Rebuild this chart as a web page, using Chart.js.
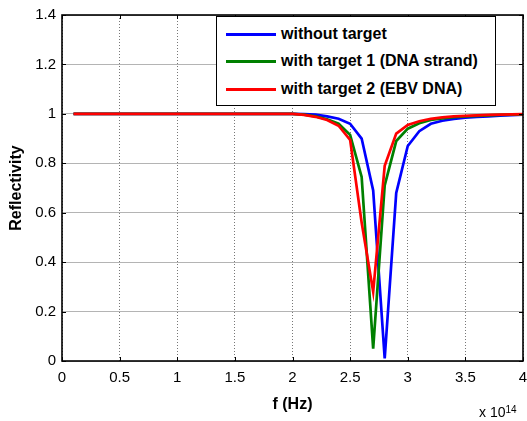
<!DOCTYPE html>
<html>
<head>
<meta charset="utf-8">
<script src="https://cdn.jsdelivr.net/npm/chart.js@4.4.0/dist/chart.umd.min.js"></script>
<style>
    html, body { margin: 0; padding: 0; background: #fff; }
    #wrap { position: relative; width: 527px; height: 421px; }
    #legend {
        position: absolute; left: 216px; top: 16px; width: 280px; height: 90px;
        border: 1px solid #000; background: #fff; box-sizing: border-box;
        font: bold 16px "Liberation Sans", Arial, sans-serif; color: #000;
    }
    .leg-row { position: absolute; left: 0; height: 20px; line-height: 20px; }
    .leg-line { position: absolute; left: 9px; top: 9px; width: 50px; height: 3px; }
    .leg-txt { position: absolute; left: 64px; top: 0; white-space: nowrap; }
    #expo {
        position: absolute; left: 479px; top: 404px;
        font: 14px "Liberation Sans", Arial, sans-serif; color: #000; white-space: nowrap;
    }
    #expo sup { font-size: 10px; position: relative; top: -4px; vertical-align: baseline; }
</style>
</head>
<body>
<div id="wrap">
    <canvas id="chartRefl" width="527" height="421"></canvas>
    <div id="legend"></div>
    <div id="expo">x 10<sup>14</sup></div>
</div>
<script>
'use strict';

// ─────────────────────────────────────────────────────────────────────────────
// DONNÉES (f en unités de 1e14 Hz)
// ─────────────────────────────────────────────────────────────────────────────

var freq = [0.1, 0.2, 0.3, 0.4, 0.5, 0.6, 0.7, 0.8, 0.9, 1.0,
            1.1, 1.2, 1.3, 1.4, 1.5, 1.6, 1.7, 1.8, 1.9, 2.0,
            2.1, 2.2, 2.3, 2.4, 2.5, 2.6, 2.7, 2.8, 2.9, 3.0,
            3.1, 3.2, 3.3, 3.4, 3.5, 3.6, 3.7, 3.8, 3.9, 4.0];

var sansCible = [1, 1, 1, 1, 1, 1, 1, 1, 1, 1,
                 1, 1, 1, 1, 1, 1, 1, 1, 1, 1,
                 0.999, 0.997, 0.99, 0.98, 0.96, 0.90, 0.69, 0.01, 0.68, 0.87,
                 0.93, 0.96, 0.972, 0.98, 0.985, 0.988, 0.99, 0.993, 0.995, 0.997];

var cible1 = [1, 1, 1, 1, 1, 1, 1, 1, 1, 1,
              1, 1, 1, 1, 1, 1, 1, 1, 1, 1,
              0.997, 0.99, 0.978, 0.96, 0.915, 0.745, 0.05, 0.71, 0.89, 0.94,
              0.962, 0.975, 0.982, 0.987, 0.99, 0.992, 0.994, 0.996, 0.997, 0.998];

var cible2 = [1, 1, 1, 1, 1, 1, 1, 1, 1, 1,
              1, 1, 1, 1, 1, 1, 1, 1, 1, 1,
              0.996, 0.988, 0.975, 0.952, 0.895, 0.56, 0.28, 0.79, 0.92, 0.955,
              0.97, 0.98, 0.986, 0.99, 0.992, 0.994, 0.996, 0.997, 0.998, 0.999];

var seriesLabels = ['without target', 'with target 1 (DNA strand)', 'with target 2 (EBV DNA)'];
var seriesColors = ['#0000ff', '#008000', '#ff0000'];

var xTicks = [0, 0.5, 1, 1.5, 2, 2.5, 3, 3.5, 4];
var xTickLabels = ['0', '0.5', '1', '1.5', '2', '2.5', '3', '3.5', '4'];
var yTicks = [0, 0.2, 0.4, 0.6, 0.8, 1, 1.2, 1.4];
var yTickLabels = ['0', '0.2', '0.4', '0.6', '0.8', '1', '1.2', '1.4'];

var FONT = '"Liberation Sans", Arial, sans-serif';

function toPoints(values) {
    return freq.map(function(f, i) { return { x: f, y: values[i] }; });
}

// cadre noir + petites graduations intérieures (style MATLAB)
var boxPlugin = {
    id: 'boxPlugin',
    afterDraw: function(chart) {
        var a = chart.chartArea;
        var ctx = chart.ctx;
        var sx = chart.scales.x, sy = chart.scales.y;
        ctx.save();
        ctx.strokeStyle = '#000';
        ctx.lineWidth = 1;
        ctx.beginPath();
        xTicks.forEach(function(v) {
            var px = Math.round(sx.getPixelForValue(v)) + 0.5;
            ctx.moveTo(px, a.bottom); ctx.lineTo(px, a.bottom - 4);
            ctx.moveTo(px, a.top); ctx.lineTo(px, a.top + 4);
        });
        yTicks.forEach(function(v) {
            var py = Math.round(sy.getPixelForValue(v)) + 0.5;
            ctx.moveTo(a.left, py); ctx.lineTo(a.left + 4, py);
            ctx.moveTo(a.right, py); ctx.lineTo(a.right - 4, py);
        });
        ctx.stroke();
        ctx.lineWidth = 1.6;
        ctx.strokeRect(a.left, a.top, a.right - a.left, a.bottom - a.top);
        ctx.restore();
    }
};

function buildLegend() {
    var legend = document.getElementById('legend');
    var html = '';
    var rowsTop = [7, 34, 62];
    for (var i = 0; i < seriesLabels.length; i++) {
        html += '<div class="leg-row" style="top:' + rowsTop[i] + 'px;width:100%;">'
            + '<span class="leg-line" style="background:' + seriesColors[i] + '"></span>'
            + '<span class="leg-txt">' + seriesLabels[i] + '</span>'
            + '</div>';
    }
    legend.innerHTML = html;
}

var ctx = document.getElementById('chartRefl');
var datasets = [sansCible, cible1, cible2].map(function(vals, i) {
    return {
        label: seriesLabels[i],
        data: toPoints(vals),
        borderColor: seriesColors[i],
        backgroundColor: seriesColors[i],
        borderWidth: 2.7,
        pointRadius: 0,
        tension: 0,
        fill: false,
        order: 3 - i
    };
});

var chartRefl = new Chart(ctx, {
    type: 'line',
    data: { datasets: datasets },
    options: {
        responsive: false,
        animation: false,
        layout: { padding: { top: 15, right: 4, left: 0, bottom: 0 } },
        plugins: {
            legend: { display: false },
            tooltip: { enabled: false }
        },
        scales: {
            x: {
                type: 'linear',
                min: 0,
                max: 4,
                afterBuildTicks: function(s) { s.ticks = xTicks.map(function(v) { return { value: v }; }); },
                afterFit: function(s) { s.height = 60; s.paddingRight = 0; s.paddingLeft = 0; },
                ticks: {
                    color: '#000',
                    padding: 8,
                    maxRotation: 0,
                    font: { family: FONT, size: 15 },
                    callback: function(v, i) { return xTickLabels[i]; }
                },
                grid: { color: '#777', lineWidth: 1, drawTicks: false },
                border: { display: false, dash: [1, 2] },
                title: {
                    display: true,
                    text: 'f (Hz)',
                    color: '#000',
                    padding: { top: 0, bottom: 7 },
                    font: { family: FONT, size: 16, weight: 'bold' }
                }
            },
            y: {
                min: 0,
                max: 1.4,
                afterBuildTicks: function(s) { s.ticks = yTicks.map(function(v) { return { value: v }; }); },
                afterFit: function(s) { s.width = 62; s.paddingTop = 0; s.paddingBottom = 0; },
                ticks: {
                    color: '#000',
                    padding: 6,
                    font: { family: FONT, size: 15 },
                    callback: function(v, i) { return yTickLabels[i]; }
                },
                grid: { color: '#b4b4b4', lineWidth: 1, drawTicks: false },
                border: { display: false },
                title: {
                    display: true,
                    text: 'Reflectivity',
                    color: '#000',
                    padding: { top: 7, bottom: 0 },
                    font: { family: FONT, size: 16, weight: 'bold' }
                }
            }
        }
    },
    plugins: [boxPlugin]
});

buildLegend();
</script>
</body>
</html>
